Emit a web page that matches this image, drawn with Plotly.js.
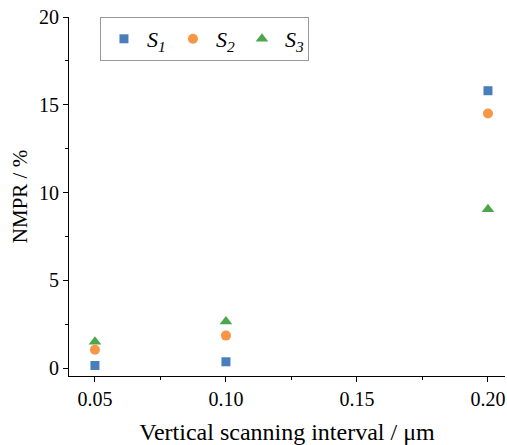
<!DOCTYPE html>
<html><head><meta charset="utf-8">
<script src="https://cdn.plot.ly/plotly-3.0.1.min.js"></script>
<style>body{margin:0;background:#fff}</style></head>
<body><div id="chart" style="width:507px;height:445px"></div>
<script>
const xValues = [0.05, 0.10, 0.20];
const s1 = [0.15, 0.36, 15.8];
const s2 = [1.05, 1.85, 14.5];
const s3 = [1.5, 2.65, 9.05];
const names = ['<i>S<sub>1</sub></i>', '<i>S<sub>2</sub></i>', '<i>S<sub>3</sub></i>'];

const mk = (y, name, color, symbol, size) => ({
  x: xValues, y: y, name: name, type: 'scatter', mode: 'markers',
  marker: {color: color, symbol: symbol, size: size}
});
const data = [
  mk(s1, names[0], '#4a7ebb', 'square', 9),
  mk(s2, names[1], '#f79646', 'circle', 10),
  mk(s3, names[2], '#4ea64a', 'triangle-up', 11)
];
const FAM = 'Liberation Serif';
const f = (size) => ({family: FAM, size: size, color: '#000'});
const layout = {
  width: 507, height: 445,
  margin: {l: 69, r: 2, t: 17, b: 69},
  paper_bgcolor: '#fff', plot_bgcolor: '#fff',
  font: f(20),
  showlegend: true,
  legend: {orientation: 'h', x: 0.071, y: 1, xanchor: 'left', yanchor: 'top',
    bordercolor: '#999', borderwidth: 1, bgcolor: '#fff',
    font: f(22), itemwidth: 36, entrywidth: 18, tracegroupgap: 0},
  xaxis: {
    range: [0.0401, 0.2065], tickvals: [0.05, 0.10, 0.15, 0.20],
    ticktext: ['0.05', '0.10', '0.15', '0.20'],
    ticks: 'outside', ticklen: 5, tickcolor: '#000', tickwidth: 1,
    showline: true, linecolor: '#000', linewidth: 1, showgrid: false, zeroline: false,
    minor: {tickvals: [0.075, 0.125, 0.175], ticks: 'outside', ticklen: 3, tickcolor: '#000'},
    tickfont: f(20),
    title: {text: 'Vertical scanning interval / μm', font: f(24), standoff: 14}
  },
  yaxis: {
    range: [-0.45, 20], tickvals: [0, 5, 10, 15, 20],
    ticks: 'outside', ticklen: 5, tickcolor: '#000', tickwidth: 1,
    showline: true, linecolor: '#000', linewidth: 1, showgrid: false, zeroline: false,
    minor: {tickvals: [2.5, 7.5, 12.5, 17.5], ticks: 'outside', ticklen: 3, tickcolor: '#000'},
    tickfont: f(20),
    title: {text: 'NMPR / %', font: f(21), standoff: 5}
  }
};
Plotly.newPlot('chart', data, layout, {displayModeBar: false, staticPlot: true});
</script></body></html>
